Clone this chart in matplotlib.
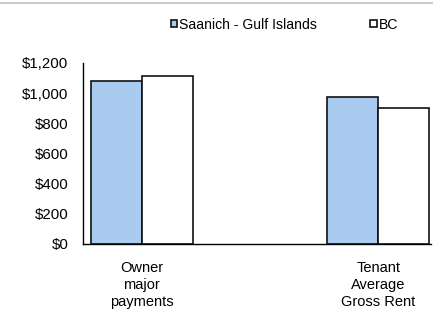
import matplotlib.pyplot as plt
import numpy as np

plt.rcParams['font.family'] = ['Liberation Sans', 'DejaVu Sans']

categories = ["Owner\nmajor\npayments", "Tenant\nAverage\nGross Rent"]
saanich = [1082, 975]
bc = [1117, 903]
series_names = ["Saanich - Gulf Islands", "BC"]
yticks = [0, 200, 400, 600, 800, 1000, 1200]

fig = plt.figure(figsize=(4.33, 3.10), dpi=100)
ax = fig.add_axes([83 / 433, 1 - 244 / 310, (431 - 83) / 433, (244 - 63) / 310])

x = np.arange(len(categories))
w = 0.2155
ax.bar(x - w / 2, saanich, w, color="#a9cbef", edgecolor="#111111", linewidth=1.2,
       label=series_names[0])
ax.bar(x + w / 2, bc, w, color="white", edgecolor="#111111", linewidth=1.2,
       label=series_names[1])

ax.set_xlim(-0.248, 1.223)
ax.set_ylim(0, 1200)
ax.set_yticks(yticks)
ax.set_yticklabels([f"${v:,}" for v in yticks], fontsize=10.8)
ax.set_xticks(x)
ax.set_xticklabels(categories, fontsize=10.5, linespacing=1.28)
ax.tick_params(axis='both', length=0)
ax.tick_params(axis='y', pad=10.5)
ax.tick_params(axis='x', pad=12)
for s in ["top", "right"]:
    ax.spines[s].set_visible(False)
for s in ["left", "bottom"]:
    ax.spines[s].set_linewidth(1.0)

fig.legend(loc="upper left", bbox_to_anchor=(165 / 433, 1 - 12 / 310), ncol=2,
           frameon=False, fontsize=10.1, handlelength=0.45, handleheight=0.45,
           handletextpad=0.15, columnspacing=3.8, borderaxespad=0)

fig.add_artist(plt.Line2D([0, 1], [1 - 3 / 310, 1 - 3 / 310], color="#cccccc", linewidth=1.5))

fig.savefig("out.png", dpi=100)
